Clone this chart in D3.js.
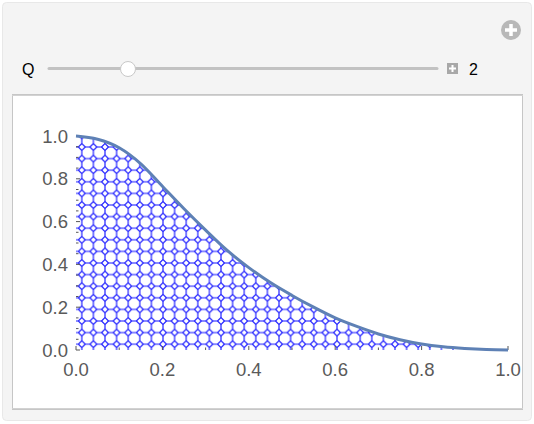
<!DOCTYPE html>
<html><head><meta charset="utf-8">
<script src="https://cdn.jsdelivr.net/npm/d3@7/dist/d3.min.js"></script>
<style>body{margin:0;background:#fff;}svg{display:block;}</style>
</head><body>
<svg id="c" width="534" height="424"></svg>
<script>
// ---- data ----
const curveX = [0,0.05,0.1,0.15,0.2,0.25,0.3,0.35,0.4,0.45,0.5,0.55,0.6,0.65,0.7,0.75,0.8,0.85,0.9,0.95,1.0];
const curveY = [1.0,0.985,0.945,0.87,0.765,0.66,0.56,0.465,0.385,0.315,0.255,0.2,0.15,0.11,0.075,0.048,0.028,0.015,0.007,0.002,0.0];
const xTickValues = [0,0.2,0.4,0.6,0.8,1.0];
const yTickValues = [0,0.2,0.4,0.6,0.8,1.0];
const xMinorTicks = [0.1,0.3,0.5,0.7,0.9];
const yMinorTicks = [0.05,0.1,0.15,0.25,0.3,0.35,0.45,0.5,0.55,0.65,0.7,0.75,0.85,0.9,0.95];
const sliderLabel = "Q";
const sliderValue = 2;
const sliderRange = [0, 10];

const svg = d3.select("#c");
const font = "'Liberation Sans', Arial, sans-serif";

// panel
svg.append("rect").attr("x",2.5).attr("y",2.5).attr("width",529).attr("height",418)
  .attr("rx",4).attr("fill","#f4f4f4").attr("stroke","#e8e8e8");

// plus icon
const pi = svg.append("g").attr("transform","translate(511,30)");
pi.append("circle").attr("r",10).attr("fill","#b8b8b8");
pi.append("rect").attr("x",-6).attr("y",-1.75).attr("width",12).attr("height",3.5).attr("fill","#fff");
pi.append("rect").attr("x",-1.75).attr("y",-6).attr("width",3.5).attr("height",12).attr("fill","#fff");

// slider
svg.append("text").attr("x",22).attr("y",74.5).attr("font-family",font).attr("font-size",16)
  .attr("fill","#000").text(sliderLabel);
const sx = d3.scaleLinear().domain(sliderRange).range([50,440]);
svg.append("line").attr("x1",49).attr("x2",437).attr("y1",68.5).attr("y2",68.5)
  .attr("stroke","#c2c2c2").attr("stroke-width",3).attr("stroke-linecap","round");
svg.append("circle").attr("cx",sx(sliderValue)).attr("cy",69).attr("r",7.5)
  .attr("fill","#fff").attr("stroke","#c8c8c8").attr("stroke-width",1);
const pb = svg.append("g").attr("transform","translate(452.5,68.5)");
pb.append("rect").attr("x",-5.5).attr("y",-5.5).attr("width",11).attr("height",11).attr("fill","#a8a8a8");
pb.append("rect").attr("x",-3.5).attr("y",-1).attr("width",7).attr("height",2).attr("fill","#fff");
pb.append("rect").attr("x",-1).attr("y",-3.5).attr("width",2).attr("height",7).attr("fill","#fff");
svg.append("text").attr("x",469).attr("y",75).attr("font-family",font).attr("font-size",16)
  .attr("fill","#000").text(String(sliderValue));

// plot frame
svg.append("rect").attr("x",12.5).attr("y",94.5).attr("width",510).attr("height",315)
  .attr("fill","#fff").attr("stroke","#c6c6c6").attr("stroke-width",1);
svg.append("line").attr("x1",12).attr("x2",523).attr("y1",95.5).attr("y2",95.5).attr("stroke","#d2d2d2");
svg.append("line").attr("x1",12).attr("x2",523).attr("y1",408.5).attr("y2",408.5).attr("stroke","#d2d2d2");

// scales
const x = d3.scaleLinear().domain([0,1]).range([76,508]);
const y = d3.scaleLinear().domain([0,1]).range([350,136]);

// pattern: truncated square tiling
const P = 11.6, a = P/(1+Math.SQRT2);
const defs = svg.append("defs");
const pat = defs.append("pattern").attr("id","oct").attr("patternUnits","userSpaceOnUse")
  .attr("width",P).attr("height",P).attr("x",76 - P/2).attr("y",350 - P/2);
const c = P/2, h = a/2;
const oct = [[c-h,0],[c+h,0],[P,c-h],[P,c+h],[c+h,P],[c-h,P],[0,c+h],[0,c-h]];
pat.append("path").attr("d","M"+oct.map(p=>p.join(",")).join("L")+"Z")
  .attr("fill","none").attr("stroke","#1010ff").attr("stroke-width",1.1);

const pts = curveX.map((v,i)=>[v,curveY[i]]);
const area = d3.area().x(d=>x(d[0])).y0(y(0)).y1(d=>y(d[1])).curve(d3.curveMonotoneX);
svg.append("path").datum(pts).attr("d",area).attr("fill","url(#oct)");

// ticks
const tickCol = "#555";
svg.selectAll(".xt").data(xTickValues).join("line").attr("x1",d=>x(d)).attr("x2",d=>x(d))
  .attr("y1",y(0)).attr("y2",y(0)-4).attr("stroke",tickCol);
svg.selectAll(".xm").data(xMinorTicks).join("line").attr("x1",d=>x(d)).attr("x2",d=>x(d))
  .attr("y1",y(0)).attr("y2",y(0)-2.5).attr("stroke",tickCol);
svg.selectAll(".yt").data(yTickValues).join("line").attr("x1",x(0)).attr("x2",x(0)+4)
  .attr("y1",d=>y(d)).attr("y2",d=>y(d)).attr("stroke",tickCol);
svg.selectAll(".ym").data(yMinorTicks).join("line").attr("x1",x(0)).attr("x2",x(0)+2.5)
  .attr("y1",d=>y(d)).attr("y2",d=>y(d)).attr("stroke",tickCol);

// tick labels
svg.selectAll(".xl").data(xTickValues).join("text").attr("x",d=>x(d)).attr("y",376)
  .attr("text-anchor","middle").attr("font-family",font).attr("font-size",18.5).attr("fill","#5a5a5a")
  .text(d=>d3.format(".1f")(d));
svg.selectAll(".yl").data(yTickValues).join("text").attr("x",68).attr("y",d=>y(d)+6.5)
  .attr("text-anchor","end").attr("font-family",font).attr("font-size",18.5).attr("fill","#5a5a5a")
  .text(d=>d3.format(".1f")(d));

// curve
const line = d3.line().x(d=>x(d[0])).y(d=>y(d[1])).curve(d3.curveMonotoneX);
svg.append("path").datum(pts).attr("d",line).attr("fill","none")
  .attr("stroke","#5e81b5").attr("stroke-width",3);
</script>
</body></html>
